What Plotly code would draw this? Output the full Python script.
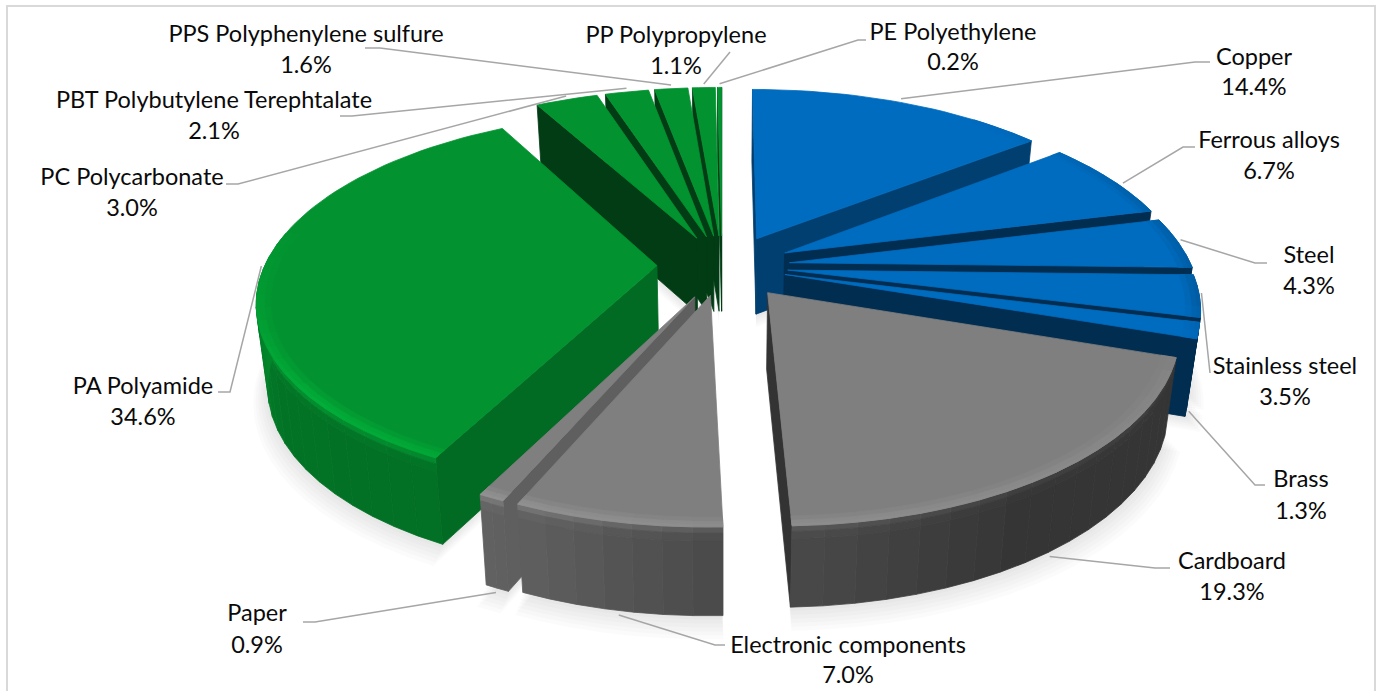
import numpy as np
import plotly.graph_objects as go

# ---- data -----------------------------------------------------------------
NAMES = ["Copper", "Ferrous alloys", "Steel", "Stainless steel", "Brass", "Cardboard",
         "Electronic components", "Paper", "PA Polyamide", "PC Polycarbonate",
         "PBT Polybutylene Terephtalate", "PPS Polyphenylene sulfure",
         "PP Polypropylene", "PE Polyethylene"]
VALUES = [14.4, 6.7, 4.3, 3.5, 1.3, 19.3, 7.0, 0.9, 34.6, 3.0, 2.1, 1.6, 1.1, 0.2]

# ---- styles ---------------------------------------------------------------
BLUE, GRAY, GREEN = (0, 108, 191), (127, 127, 127), (2, 147, 48)
COLORS = [BLUE] * 5 + [GRAY] * 3 + [GREEN] * 6
RADIAL_SHADE = [.58, .42, .42, .42, .42, .40, .80, .75, .72, .41, .41, .41, .41, .41]
NUDGE_X = [7, 5, 3, 1, 0, 6, 1, 1, 0, 0, 0, 0, 0, 0]
NUDGE_Y = [0, 1, 1, 1, 1, 3, 0, 4, 0, 0, 0, 0, 0, 0]
RADIUS_SCALE = [1, 1, 1, 1, 1, .98, .965, .95, .975, 1, 1, 1, 1, 1]
DEPTH_SCALE = [1, 1, 1, 1, 1, 1, 1.09, 1.12, 1.08, 1, 1, 1, 1, 1]
FONT = "Lato"
FONT_SIZE = 23.5
TEXT_COLOR = "#0a0a0a"
LEADER_COLOR = "#a6a6a6"

# ---- pseudo-3D projection --------------------------------------------------
CX, CY, R, EXPLODE = 722.0, 265.0, 402.0, 65.0
TILT, PERSP, DEPTH, NARROW = 0.461, 0.000454, 76.0, 0.975


def project(X, Y, z=0.0, depth=1.0):
    w = 1 + PERSP * Y
    sx = 1 - (1 - NARROW) * z
    return CX + sx * X / w, CY - TILT * Y / w + z * DEPTH * depth / w ** 0.3


def slice_point(i, theta, mid, r, z=0.0):
    X = r * RADIUS_SCALE[i] * np.sin(theta) + EXPLODE * np.sin(mid)
    Y = r * RADIUS_SCALE[i] * np.cos(theta) + EXPLODE * np.cos(mid)
    x, y = project(X, Y, z, DEPTH_SCALE[i])
    return x + NUDGE_X[i], y + NUDGE_Y[i]


def shade(c, f):
    return tuple(min(255, int(round(v * f))) for v in c)


def glow_color(c, amount):
    """Lighten keeping the hue; darken towards black for a negative amount."""
    if amount >= 0:
        return shade(c, 1 + 1.4 * amount)
    return shade(c, 1 + amount)


def css(c):
    return "rgb(%d,%d,%d)" % c


WALL_ANG = [0, 100, 150, 178, 205, 240, 270, 360]
WALL_LIGHT = [.42, .42, .42, .58, .76, .78, .93, .95]
RIM_ANG = [0, 40, 70, 100, 112, 150, 180, 205, 230, 255, 285, 360]
RIM_GLOW = [0, 0, -.10, -.14, .03, .07, .08, .10, .13, .05, 0, 0]

fig = go.Figure()


def poly(xs, ys, fill, line=None):
    xs, ys = list(xs), list(ys)
    xs.append(xs[0]); ys.append(ys[0])
    fig.add_trace(go.Scatter(x=xs, y=ys, mode="lines", fill="toself",
                             fillcolor=fill, line=dict(color=line or fill, width=0.8 if line is None else 0),
                             hoverinfo="skip", showlegend=False))


edges = np.cumsum([0] + VALUES) / sum(VALUES) * 2 * np.pi
slices = []
for i in range(len(VALUES)):
    a0, a1 = edges[i], edges[i + 1]
    slices.append(dict(i=i, a0=a0, a1=a1, mid=(a0 + a1) / 2))

# soft ground shadow
for s in slices:
    i = s["i"]
    th = np.linspace(s["a0"], s["a1"], max(3, int(np.degrees(s["a1"] - s["a0"]) / 4) + 2))
    for step in range(1, 7):
        px, py = [], []
        for t in th:
            x, y = slice_point(i, t, s["mid"], R * (1 + .006 * step), 1)
            px.append(x); py.append(y + 2.2 * step)
        x, y = slice_point(i, 0, s["mid"], 0, 1)
        px.append(x); py.append(y + 2.2 * step)
        poly(px, py, "rgba(0,0,0,0.016)", "rgba(0,0,0,0)")

# back to front
for s in sorted(slices, key=lambda d: -np.cos(d["mid"])):
    i, a0, a1, mid = s["i"], s["a0"], s["a1"], s["mid"]
    col = COLORS[i]
    n = max(2, int(np.degrees(a1 - a0) / 4) + 1)
    th = np.linspace(a0, a1, n + 1)
    ax0, ay0 = slice_point(i, 0, mid, 0, 0)
    ax1, ay1 = slice_point(i, 0, mid, 0, 1)
    # radial faces that look towards the viewer
    rad_col = css(shade(col, RADIAL_SHADE[i]))
    for t, normal in ((a0, a0 - np.pi / 2), (a1, a1 + np.pi / 2)):
        if np.cos(normal) > 0.01:
            continue
        x0, y0 = slice_point(i, t, mid, R, 0)
        x1, y1 = slice_point(i, t, mid, R, 1)
        poly([ax0, x0, x1, ax1], [ay0, y0, y1, ay1], rad_col)
    # outer wall, shaded by facing
    for t0, t1 in zip(th[:-1], th[1:]):
        if np.cos((t0 + t1) / 2) > 0.05:
            continue
        deg = np.degrees((t0 + t1) / 2)
        wc = shade(col, np.interp(deg, WALL_ANG, WALL_LIGHT))
        glow = max(0.0, np.interp(deg, RIM_ANG, RIM_GLOW))
        bands = [(0.0, .07, shade(wc, 1.12 + glow)), (.07, .16, shade(wc, 1.04)), (.16, 1.0, wc)]
        for z0, z1, c in bands:
            p = [slice_point(i, t0, mid, R, z0), slice_point(i, t1, mid, R, z0),
                 slice_point(i, t1, mid, R, z1), slice_point(i, t0, mid, R, z1)]
            poly([q[0] for q in p], [q[1] for q in p], css(c))
    # top face
    px, py = [ax0], [ay0]
    for t in np.linspace(a0, a1, n * 2 + 1):
        x, y = slice_point(i, t, mid, R, 0)
        px.append(x); py.append(y)
    poly(px, py, css(col))
    # bevel rings near the rim
    rings = [(.965, .98, .35), (.98, .992, .8), (.992, 1.0, 1.0)]
    for t0, t1 in zip(th[:-1], th[1:]):
        deg = np.degrees((t0 + t1) / 2)
        glow = np.interp(deg, RIM_ANG, RIM_GLOW)
        if abs(glow) < .005:
            continue
        for r0, r1, amt in rings:
            p = [slice_point(i, t0, mid, R * r0), slice_point(i, t1, mid, R * r0),
                 slice_point(i, t1, mid, R * r1), slice_point(i, t0, mid, R * r1)]
            poly([q[0] for q in p], [q[1] for q in p], css(glow_color(col, glow * amt)))

# ---- labels and leader lines ----------------------------------------------
LABEL_X = [1254, 1269, 1309, 1285, 1301, 1232, 848, 257, 143, 132, 214, 306, 676, 953]
NAME_Y = [59, 142, 257, 368, 481, 563, 647, 615, 388, 179, 102, 36, 37, 34]
PCT_Y = [89, 173, 288, 399, 513, 594, 677, 647, 419, 210, 133, 67, 68, 64]
ANCHOR_Z = [0, 0, 0, 0, 1, 1, 1, 1, 0, 0, 0, 0, 0, 0]
ANCHOR_FRAC = [.5, .62, .5, .5, .5, .5, .5, .5, .5, .5, .5, .5, .5, .5]
LEADER_TAIL = [[(1195, 62), (1210, 62)], [(1183, 147), (1195, 147)], [(1255, 263), (1267, 263)],
               [(1210, 373)], [(1255, 485), (1265, 485)], [(1155, 568), (1170, 568)],
               [(715, 645), (725, 645)], [(315, 622), (303, 622)], [(230, 392), (218, 392)],
               [(238, 184), (226, 184)], [(352, 116), (340, 116)], [(380, 48), (365, 48)],
               [(730, 52)], [(858, 40), (866, 40)]]

for s in slices:
    i = s["i"]
    t = s["a0"] + (s["a1"] - s["a0"]) * ANCHOR_FRAC[i]
    x, y = slice_point(i, t, s["mid"], R * 1.005, ANCHOR_Z[i])
    if ANCHOR_Z[i]:
        y += 3
    else:
        y -= 3
    xs = [x] + [q[0] for q in LEADER_TAIL[i]]
    ys = [y] + [q[1] for q in LEADER_TAIL[i]]
    fig.add_trace(go.Scatter(x=xs, y=ys, mode="lines", line=dict(color=LEADER_COLOR, width=1.5),
                             hoverinfo="skip", showlegend=False))

text_style = dict(family=FONT, size=FONT_SIZE, color=TEXT_COLOR)
fig.add_trace(go.Scatter(x=LABEL_X, y=NAME_Y, mode="text", text=NAMES, textposition="middle center",
                         textfont=text_style, hoverinfo="skip", showlegend=False))
fig.add_trace(go.Scatter(x=LABEL_X, y=PCT_Y, mode="text", text=["%.1f%%" % v for v in VALUES],
                         textposition="middle center", textfont=text_style,
                         hoverinfo="skip", showlegend=False))

fig.update_layout(
    width=1376, height=691, margin=dict(l=0, r=0, t=0, b=0),
    paper_bgcolor="white", plot_bgcolor="white",
    xaxis=dict(range=[0, 1376], visible=False, fixedrange=True),
    yaxis=dict(range=[691, 0], visible=False, fixedrange=True),
    shapes=[dict(type="rect", xref="x", yref="y", x0=7, y0=6, x1=1375, y1=720,
                 line=dict(color="#d9d9d9", width=2), layer="below")],
)
fig.write_html("out.html", config={"displayModeBar": False},
               post_script="document.body.style.margin='0';document.body.style.overflow='hidden';")
